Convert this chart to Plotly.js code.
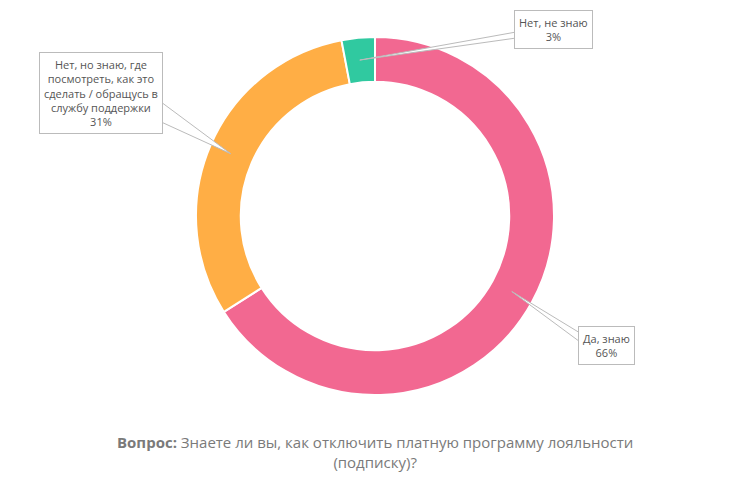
<!DOCTYPE html>
<html>
<head>
<meta charset="utf-8">
<script src="https://cdn.plot.ly/plotly-3.0.1.min.js"></script>
<style>html,body{margin:0;padding:0;background:#fff;}#chart{width:750px;height:478px;}</style>
</head>
<body>
<div id="chart"></div>
<script>
const labels = ["Да, знаю", "Нет, но знаю, где посмотреть, как это сделать / обращусь в службу поддержки", "Нет, не знаю"];
const labelText = ["Да, знаю", "Нет, но знаю, где<br>посмотреть, как это<br>сделать / обращусь в<br>службу поддержки", "Нет, не знаю"];
const values = [66, 31, 3];
const colors = ["#F26891", "#FFAE45", "#30C9A0"];

// callout styling (pixel offsets from the slice anchor point)
const boxOffsets = [[95, 54], [-130, -61], [194, -31]];
const wedgeBase = [[[69, 42], [69, 51]], [[-70, -52], [-70, -32]], [[156, -28], [156, -22]]];

const W = 750, H = 478;
const cxPx = 374.5, cyPx = 216, rOut = 179, hole = 0.75;
const domY = [1 - (cyPx + rOut) / H, 1 - (cyPx - rOut) / H];

const total = values.reduce((a, b) => a + b, 0);
const rMid = rOut * (1 + hole) / 2;
let cum = 0;
const annotations = [];
const shapes = [];
values.forEach((v, i) => {
  const mid = (cum + v / 2) / total * 2 * Math.PI;
  cum += v;
  const x = (cxPx + rMid * Math.sin(mid)) / W;
  const y = 1 - (cyPx - rMid * Math.cos(mid)) / H;
  const b = wedgeBase[i];
  shapes.push({
    type: 'path', xref: 'paper', yref: 'paper',
    xsizemode: 'pixel', ysizemode: 'pixel', xanchor: x, yanchor: y,
    path: `M0,0 L${b[0][0]},${-b[0][1]} L${b[1][0]},${-b[1][1]} Z`,
    fillcolor: '#ffffff', line: {color: '#bbbbbb', width: 1}
  });
  annotations.push({
    xref: 'paper', yref: 'paper', x: x, y: y,
    xanchor: 'center', yanchor: 'middle',
    xshift: boxOffsets[i][0], yshift: -boxOffsets[i][1],
    text: labelText[i] + '<br>' + v + '%',
    showarrow: false,
    bgcolor: '#ffffff', bordercolor: '#bbbbbb', borderwidth: 1, borderpad: 4,
    font: {family: 'Open Sans, sans-serif', size: 11, color: '#555555'},
    align: 'center'
  });
});
annotations.push({
  xref: 'paper', yref: 'paper', x: 0.5, y: 1 - 452 / H,
  xanchor: 'center', yanchor: 'middle', showarrow: false,
  text: '<b>Вопрос:</b> Знаете ли вы, как отключить платную программу лояльности<br>(подписку)?',
  font: {family: 'Open Sans, sans-serif', size: 15, color: '#7a7a7a'},
  align: 'center'
});

Plotly.newPlot('chart', [{
  type: 'pie',
  labels: labels,
  values: values,
  hole: hole,
  sort: false,
  direction: 'clockwise',
  rotation: 0,
  textinfo: 'none',
  hoverinfo: 'label+percent',
  marker: {colors: colors, line: {color: '#ffffff', width: 2}},
  domain: {x: [0, 1], y: domY}
}], {
  width: W, height: H,
  margin: {l: 0, r: 0, t: 0, b: 0},
  showlegend: false,
  paper_bgcolor: '#ffffff',
  shapes: shapes,
  annotations: annotations
}, {displayModeBar: false, staticPlot: true});
</script>
</body>
</html>
